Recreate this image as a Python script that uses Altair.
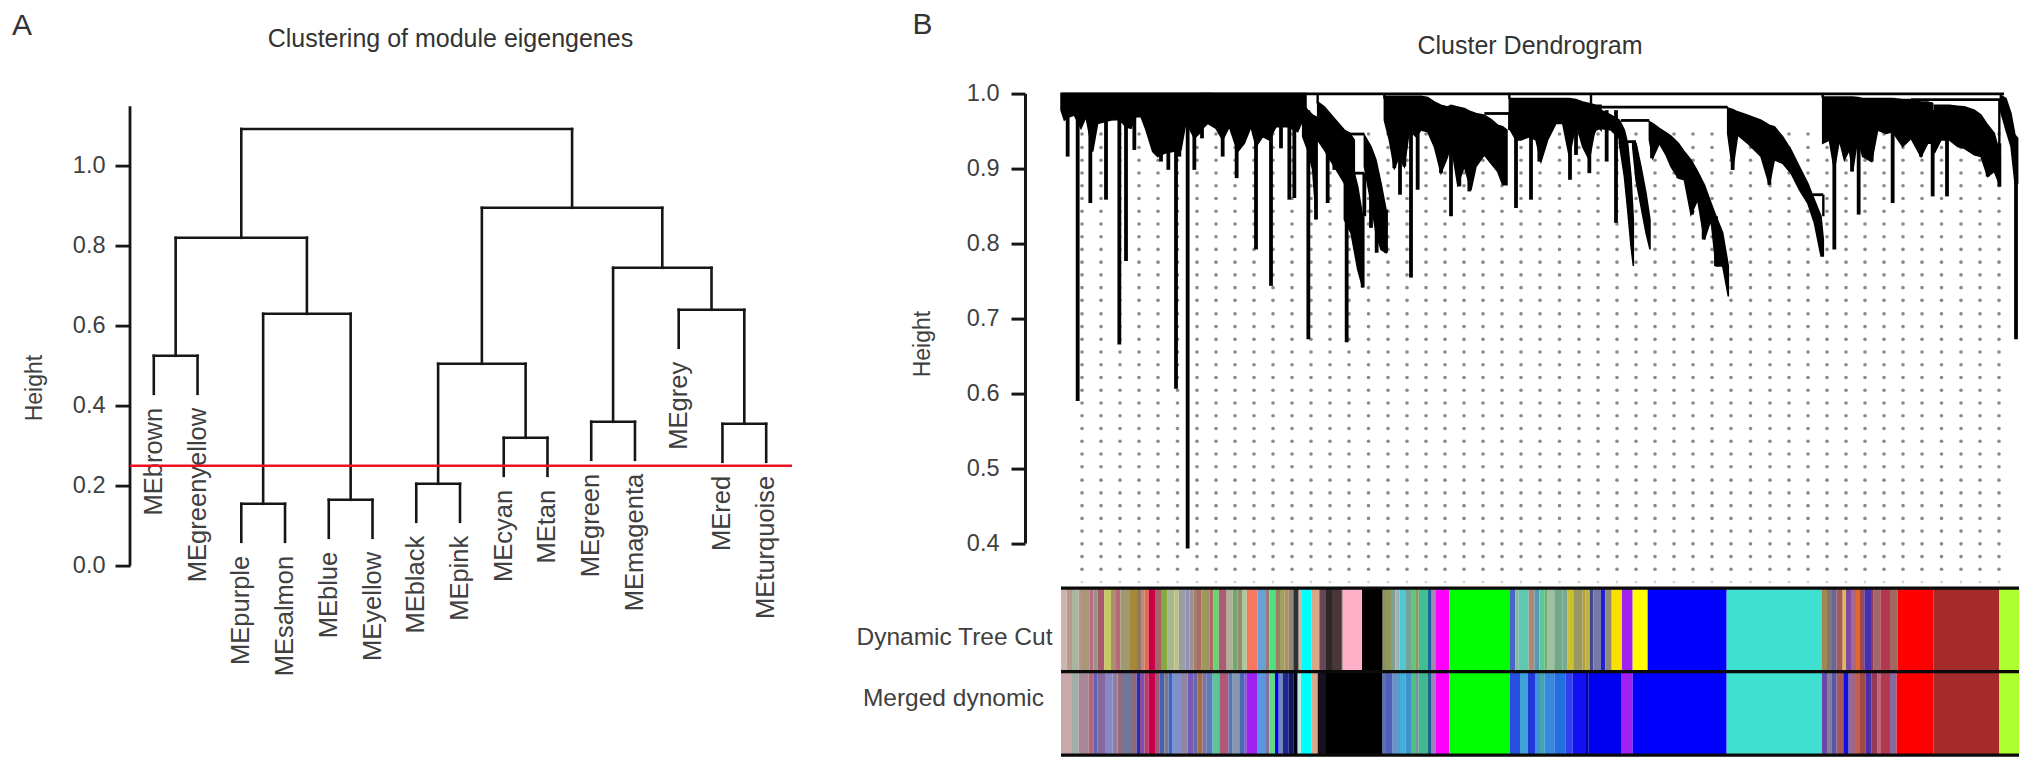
import altair as alt
import pandas as pd

FONT = "Liberation Sans"
TXT = "#404040"
INK = "#161616"

# ---------- Panel A ----------
LEAF_NAMES = ["MEbrown", "MEgreenyellow", "MEpurple", "MEsalmon", "MEblue", "MEyellow", "MEblack", "MEpink",
              "MEcyan", "MEtan", "MEgreen", "MEmagenta", "MEgrey", "MEred", "MEturquoise"]
LEAF_ENDS = [.43, .43, .06, .06, .07, .07, .11, .11, .225, .225, .265, .265, .545, .26, .26]
# left x, right x, merge height, left child height, right child height
MERGES = [
    (0, 1, .525, .43, .43), (2, 3, .155, .06, .06), (4, 5, .165, .07, .07), (2.5, 4.5, .63, .155, .165),
    (.5, 3.5, .82, .525, .63), (6, 7, .205, .11, .11), (8, 9, .32, .225, .225), (6.5, 8.5, .505, .205, .32),
    (10, 11, .36, .265, .265), (13, 14, .355, .26, .26), (12, 13.5, .64, .545, .355),
    (10.5, 12.75, .745, .36, .64), (7.5, 11.625, .895, .505, .745), (2, 9.5625, 1.092, .82, .895),
]
CUT_HEIGHT = .25
A_TICKS = [0, .2, .4, .6, .8, 1.0]
A_X = [-.544, 14.59]
A_W, A_H = 662, 472.2
AXIS_TOP = 1.149

segs = []
for xl, xr, h, hl, hr in MERGES:
    segs += [dict(x=xl, x2=xr, y=h, y2=h), dict(x=xl, x2=xl, y=hl, y2=h), dict(x=xr, x2=xr, y=hr, y2=h)]
segA = pd.DataFrame(segs)
ax = alt.X("x:Q", scale=alt.Scale(domain=A_X, nice=False, zero=False), axis=None)
ay = alt.Y("y:Q", scale=alt.Scale(domain=[0, 1.1805], nice=False, zero=False),
           axis=alt.Axis(values=A_TICKS, format=".1f", title="Height", grid=False, domain=False, tickColor=INK,
                         tickWidth=2.8, tickSize=15, labelFontSize=23.5, labelColor=TXT, labelFont=FONT,
                         labelPadding=10, titleFont=FONT, titleFontSize=23, titleColor=TXT, titleFontWeight="normal",
                         titleX=-96, titleY=294, titleBaseline="middle"))
axisLine = alt.Chart(pd.DataFrame(dict(x=[A_X[0]], y=[0], y2=[AXIS_TOP]))).mark_rule(color=INK, strokeWidth=2.8).encode(x=ax, y=ay, y2="y2:Q")
treeA = alt.Chart(segA).mark_rule(color=INK, strokeWidth=2.6, strokeCap="square").encode(x=ax, x2="x2:Q", y=ay, y2="y2:Q")
labelsA = alt.Chart(pd.DataFrame(dict(x=list(range(15)), n=LEAF_NAMES, y=[e - .035 for e in LEAF_ENDS]))).mark_text(
    angle=270, align="right", baseline="middle", font=FONT, fontSize=25.5, color=TXT).encode(x=ax, y=ay, text="n:N")
cutA = alt.Chart(pd.DataFrame(dict(x=[A_X[0]], x2=[A_X[1]], y=[CUT_HEIGHT]))).mark_rule(color="#ee1122", strokeWidth=2.6).encode(
    x=ax, x2="x2:Q", y=ay)
panelA = alt.layer(axisLine, treeA, labelsA, cutA).properties(width=A_W, height=A_H)

# ---------- Panel B dendrogram ----------
GUIDE_X = [21, 40, 59, 78, 97, 116.5, 136, 155, 174, 193, 212, 231, 250, 269, 288, 307.5, 327, 346, 365, 384, 403, 422,
           441, 460, 479, 498.5, 518, 537, 556, 575, 594, 613, 632, 651, 670, 689.5, 709, 728, 747, 766, 785, 804, 823,
           842, 861, 880.5, 900, 919, 938]
GUIDE_H = [.946, .928, .911, .894, .877, .860, .843, .826, .809, .792, .775, .758, .741, .724, .706, .689, .672, .655,
           .638, .621, .604, .587, .570, .553, .536, .519, .502, .484, .467, .450, .433, .416, .399, .382, .365]
GUIDE_LAST = .348

Z1, Z2, Z5 = -250, 140, 530
PIECES = [
    (Z1, [(750,100,150),(760,100,180),(775,100,170),(790,100,165),(810,100,205),(825,100,170),(845,100,275),(860,100,190),
          (880,100,185),(900,100,180),(925,100,178),(945,100,200),(960,100,205),(975,100,170),(990,100,170),(1005,100,210),
          (1025,100,275),(1040,100,290),(1060,100,280),(1085,100,275),(1110,100,270),(1125,100,185),(1150,100,235),
          (1170,100,215),(1185,100,180),(1200,100,190)]),
    (Z2, [(0,100,210),(20,100,190),(45,100,205),(65,100,240),(85,100,200),(110,100,275),(130,100,250),(150,100,200),
          (165,100,260),(185,100,230),(205,100,240),(225,100,200),(260,100,200),(290,100,215),(305,100,180),(315,100,160)]),
    (Z2, [(305,130,230),(320,150,270),(335,165,330),(345,170,470)]),
    (Z2, [(350,125,240),(370,140,270),(400,175,320),(430,210,370),(445,218,400),(460,240,440)]),
    (Z2, [(490,225,320),(510,260,430),(525,300,520),(540,370,570),(555,450,580)]),
    (Z2, [(430,260,480),(450,300,520),(470,380,630),(485,470,685)]),
    (Z2, [(550,108,180),(565,108,240),(580,108,325),(595,108,290),(610,108,320),(625,108,210),(645,108,230),(660,108,210),
          (680,112,215),(700,125,260),(720,135,340),(740,140,290),(750,135,250),(770,140,375),(790,145,320),(810,155,390),
          (825,160,320),(850,165,285),(870,178,310),(890,195,335),(905,200,375),(918,210,375)]),
    (Z2, [(925,115,205),(945,115,240),(960,115,240),(985,115,230),(1005,115,240),(1020,115,305),(1040,115,240),(1065,115,190),
          (1085,115,190),(1105,115,290),(1125,118,190),(1145,125,260),(1165,130,300),(1185,135,190),(1200,135,210)]),
    (Z5, [(0,140,240),(15,145,210),(30,150,205),(60,165,210),(85,180,235)]),
    (Z5, [(85,180,250),(100,210,350),(110,250,450),(120,350,560),(127,480,620)]),
    (Z5, [(125,245,260),(135,250,360),(150,320,440),(165,400,520),(177,480,570)]),
    (Z5, [(175,185,240),(185,190,295),(205,205,250),(225,218,285),(240,228,320),(262,250,355),(280,275,360),(300,300,465),
          (320,335,420),(340,375,540),(360,430,480),(375,470,620),(395,520,620),(412,620,712)]),
    (Z5, [(410,143,220),(425,148,330),(440,155,225),(470,165,250),(510,180,290),(535,195,375),(550,200,300),(575,230,310),
          (600,270,340),(625,320,390),(650,370,430),(670,420,490),(690,470,590),(697,540,590)]),
    (Z5, [(695,110,250),(715,110,240),(730,110,330),(745,110,240),(760,110,300),(775,110,270),(785,110,335),(800,112,235),
          (815,115,290),(842,115,305),(860,115,210),(885,115,220),(905,115,215),(935,118,260),(960,118,235),(990,125,290),
          (1010,125,250),(1025,130,250)]),
    (Z5, [(1030,135,280),(1050,135,240),(1075,135,240),(1100,138,260),(1120,140,265),(1150,150,285),(1170,165,290),
          (1190,195,350),(1210,220,335),(1228,290,380)]),
    (Z5, [(1228,105,150),(1245,115,210),(1260,160,260),(1272,225,370),(1280,235,370)]),
]
# (crop origin, x, top, bottom)
SPIKES = [
    (Z1,770,150,290),(Z1,800,150,1027),(Z1,838,150,430),(Z1,885,150,420),(Z1,925,150,857),(Z1,945,150,605),(Z1,970,150,270),
    (Z1,1050,150,305),(Z1,1072,150,330),(Z1,1095,150,990),(Z1,1105,150,290),(Z1,1130,150,1472),(Z1,1150,150,330),
    (Z2,3,150,235),(Z2,65,150,290),(Z2,107,150,355),(Z2,165,150,570),(Z2,210,150,680),(Z2,240,150,265),(Z2,265,150,420),
    (Z2,280,150,415),(Z2,322,150,841),(Z2,345,170,480),(Z2,380,200,430),(Z2,400,230,330),(Z2,437,300,850),(Z2,485,470,685),
    (Z2,490,340,470),(Z2,510,300,505),(Z2,527,400,580),(Z2,555,450,580),(Z2,580,150,325),(Z2,597,150,405),(Z2,610,150,320),
    (Z2,630,150,655),(Z2,650,150,390),(Z2,720,150,340),(Z2,750,150,470),(Z2,775,150,380),(Z2,805,170,395),(Z2,945,150,445),
    (Z2,990,150,420),(Z2,1015,150,305),(Z2,1107,150,360),(Z2,1125,150,285),(Z2,1165,150,340),
    (Z5,47,150,305),(Z5,75,150,490),(Z5,183,200,295),(Z5,262,260,355),(Z5,303,310,465),(Z5,338,380,540),(Z5,375,470,620),
    (Z5,425,150,330),(Z5,535,200,375),(Z5,730,150,570),(Z5,783,150,335),(Z5,803,150,465),(Z5,842,150,305),(Z5,905,150,430),
    (Z5,990,150,290),(Z5,1025,150,410),(Z5,1068,150,410),(Z5,1190,200,350),(Z5,1225,250,380),(Z5,1275,240,841),
]
# horizontal connectors (crop origin, x0, x1, level)
BARS = [
    (Z1,750,3579,101),(Z2,440,490,222),(Z2,460,490,340),(Z2,850,925,160),(Z5,30,410,141),(Z5,90,175,181),(Z5,110,135,245),
    (Z5,665,697,405),(Z5,960,1228,118),(Z5,965,1025,130),
]
# vertical connectors (crop origin, x, top, bottom)
POSTS = [(Z2,925,160,210),(Z5,697,405,470),(Z5,1225,118,290),(Z2,350,100,130),(Z2,550,100,115),(Z2,925,100,116),(Z5,695,100,112),(Z5,0,100,140)]

def off(origin, zx):
    return origin + zx / 3
def hgt(zy):
    return 1 - (zy - 100) / 2260

B_X = [-36, 960]
B_W, B_H = 996, 449.5
bx = alt.X("x:Q", scale=alt.Scale(domain=B_X, nice=False, zero=False), axis=None)
by = alt.Y("y:Q", scale=alt.Scale(domain=[.4, 1], nice=False, zero=False),
           axis=alt.Axis(values=[.4, .5, .6, .7, .8, .9, 1.0], format=".1f", title="Height", grid=False, domainColor=INK,
                         tickColor=INK, domainWidth=3, tickWidth=3, tickSize=14, labelFontSize=23.5, labelColor=TXT,
                         labelFont=FONT, labelPadding=12, titleFont=FONT, titleFontSize=23, titleColor=TXT,
                         titleFontWeight="normal", titleX=-102.5, titleY=250, titleBaseline="middle"))
dots = pd.DataFrame([dict(x=a, y=b) for a in GUIDE_X for b in GUIDE_H])
dotsLast = pd.DataFrame([dict(x=a, y=GUIDE_LAST) for a in GUIDE_X])
guide = alt.Chart(dots).mark_circle(size=13, color="#8a8a8a", opacity=1).encode(x=bx, y=by)
guide2 = alt.Chart(dotsLast).mark_circle(size=8, color="#d8d0d8", opacity=1).encode(x=bx, y=by)
areaRows = []
for i, (o, pts) in enumerate(PIECES):
    for zx, t, b in pts:
        areaRows.append(dict(p=i, x=off(o, zx), y=hgt(t), y2=hgt(b)))
mass = alt.Chart(pd.DataFrame(areaRows)).mark_area(color="black", stroke="black", strokeWidth=1.5).encode(
    x=bx, y=by, y2="y2:Q", detail="p:N")
spike = alt.Chart(pd.DataFrame([dict(x=off(o, z), y=hgt(t), y2=hgt(b)) for o, z, t, b in SPIKES])).mark_rule(
    color="black", strokeWidth=3.8).encode(x=bx, y=by, y2="y2:Q")
bars = alt.Chart(pd.DataFrame([dict(x=off(o, a), x2=off(o, b), y=hgt(l)) for o, a, b, l in BARS])).mark_rule(
    color="black", strokeWidth=2.8).encode(x=bx, x2="x2:Q", y=by)
posts = alt.Chart(pd.DataFrame([dict(x=off(o, z), y=hgt(t), y2=hgt(b)) for o, z, t, b in POSTS])).mark_rule(
    color="black", strokeWidth=2.4).encode(x=bx, y=by, y2="y2:Q")
panelB = alt.layer(guide, guide2, mass, spike, bars, posts).properties(width=B_W, height=B_H)

# ---------- colour strips: edges and colours read crop by crop ----------
DYN1 = [(15,32,"#cdb4b0"),(32,48,"#b89a90"),(48,68,"#a8b8a0"),(68,78,"#c09090"),(78,100,"#a89878"),(100,112,"#c06888"),(112,125,"#909880"),
        (125,145,"#a85870"),(145,165,"#c8c860"),(165,180,"#a89070"),(180,193,"#b86878"),(193,222,"#a09870"),(222,243,"#a88838"),(243,255,"#907868"),
        (255,266,"#c08878"),(266,278,"#e86848"),(278,297,"#c80048"),(297,315,"#a86068"),(315,335,"#88a840"),(335,355,"#a8b890"),(355,368,"#c0c080"),
        (368,388,"#98a0a0"),(388,400,"#9090c0"),(400,412,"#a09090"),(412,423,"#a08070"),(423,437,"#b06868"),(437,450,"#98a050"),(450,460,"#a09070"),
        (460,472,"#b06860"),(472,488,"#60d870"),(488,512,"#a86070"),(512,530,"#b0b098"),(530,545,"#70a870"),(545,558,"#a08870"),(558,572,"#a0d0a0"),
        (572,605,"#f87860"),(605,630,"#68a0d8"),(630,640,"#a07870"),(640,658,"#50e080"),(658,672,"#988060"),(672,685,"#a0a060"),(685,698,"#b09060"),
        (698,712,"#908870"),(712,728,"#303038"),(728,738,"#c0c0a0"),(738,766,"#00ffff"),(766,790,"#d8a888"),(790,810,"#684858"),(810,828,"#302828"),
        (828,855,"#483838"),(855,860,"#705050"),(860,918,"#ffb0c8"),(918,980,"#000000"),(980,990,"#909060")]
MRG1 = [(15,48,"#c8a8a8"),(48,68,"#a0b0a8"),(68,98,"#a88898"),(98,112,"#b06878"),(112,125,"#6060b8"),(125,147,"#886898"),(147,170,"#8888c8"),
        (170,185,"#9080a0"),(185,195,"#a06878"),(195,225,"#707898"),(225,242,"#906878"),(242,252,"#2828b0"),(252,265,"#8050a8"),(265,278,"#b04070"),
        (278,297,"#c80048"),(297,310,"#a05878"),(310,325,"#4860b0"),(325,338,"#787888"),(338,350,"#3868c8"),(350,375,"#8090c8"),(375,395,"#9088a0"),
        (395,412,"#7858b8"),(412,425,"#6868a8"),(425,440,"#a07048"),(440,452,"#8070b0"),(452,470,"#5880b8"),(470,490,"#58c898"),(490,518,"#b05878"),
        (518,530,"#5078c0"),(530,550,"#8898a8"),(550,565,"#4868c0"),(565,572,"#7858c8"),(572,605,"#a020f0"),(605,630,"#5898e0"),(630,640,"#8870a0"),
        (640,657,"#60d888"),(657,668,"#0000f0"),(668,680,"#7088c0"),(680,698,"#202890"),(698,712,"#101860"),(712,725,"#000010"),(725,735,"#c0e8e0"),
        (735,766,"#00ffff"),(766,785,"#d8a888"),(785,810,"#181020"),(810,978,"#000000"),(978,990,"#6070a8")]
DYN2 = [(0,15,"#909860"),(15,28,"#80a090"),(28,40,"#a0b0b8"),(40,60,"#50c8d0"),(60,75,"#78a098"),(75,90,"#60c878"),(90,98,"#a09060"),(98,125,"#40c090"),
        (125,137,"#2060a0"),(137,148,"#a08ab0"),(148,190,"#ff00ff"),(190,372,"#00ff00"),(372,388,"#4868c0"),(388,398,"#88b8a0"),(398,428,"#60c8b0"),
        (428,445,"#b08870"),(445,460,"#5898b0"),(460,475,"#58c8a0"),(475,485,"#70b070"),(485,505,"#a0c0a0"),(505,530,"#70a888"),(530,545,"#78a890"),
        (545,562,"#c8c030"),(562,590,"#989860"),(590,598,"#b0a040"),(598,612,"#c0b040"),(612,622,"#404890"),(622,645,"#7878a8"),(645,658,"#2020d0"),
        (658,677,"#908878"),(677,708,"#f8e000"),(708,740,"#a020f0"),(740,785,"#ffff00"),(785,960,"#0000ff")]
MRG2 = [(0,20,"#5060b8"),(20,42,"#6098c8"),(42,58,"#40b0d8"),(58,75,"#4090d0"),(75,90,"#50c080"),(90,98,"#8090a0"),(98,125,"#40b890"),(125,137,"#206090"),
        (137,148,"#a080c0"),(148,190,"#ff00ff"),(190,372,"#00ff00"),(372,402,"#2850e0"),(402,425,"#40a0d8"),(425,447,"#2038d8"),(447,462,"#4090e0"),
        (462,475,"#40a8a0"),(475,505,"#3888e0"),(505,538,"#2070e0"),(538,560,"#3040f0"),(560,600,"#1010f0"),(600,608,"#0000a8"),(608,705,"#0000f0"),
        (705,740,"#a020f0"),(740,960,"#0000ff")]
DYN3 = [(0,62,"#0000ff"),(62,348,"#40e0d0"),(348,363,"#a08850"),(363,378,"#807878"),(378,392,"#686898"),(392,410,"#a85858"),(410,420,"#d8c040"),
        (420,435,"#8048a8"),(435,450,"#a86888"),(450,462,"#e06830"),(462,475,"#a04848"),(475,495,"#4830b0"),(495,503,"#903858"),(503,523,"#a06868"),
        (523,552,"#b03850"),(552,575,"#a06860"),(575,682,"#ff0000"),(682,880,"#a52a2a"),(880,940,"#adff2f")]
MRG3 = [(0,62,"#0000ff"),(62,348,"#40e0d0"),(348,363,"#6848a8"),(363,378,"#888098"),(378,392,"#5858a8"),(392,412,"#a85858"),(412,428,"#1010e0"),
        (428,450,"#a06888"),(450,462,"#c06050"),(462,478,"#a04848"),(478,497,"#4830a8"),(497,515,"#983858"),(515,525,"#c06878"),(525,552,"#b03850"),
        (552,572,"#8868a0"),(572,682,"#ff0000"),(682,880,"#a52a2a"),(880,940,"#adff2f")]
ORIGINS = [-5, 325, 645]
STRIP_NAMES = ["Dynamic Tree Cut", "Merged dynomic"]
NAME_X = [-8.5, -17]

rows = []
for r, parts in enumerate([(DYN1, DYN2, DYN3), (MRG1, MRG2, MRG3)]):
    for o, part in zip(ORIGINS, parts):
        for a, b, c in part:
            rows.append(dict(x=o + a / 3, x2=o + b / 3, y=2 - r, y2=1 - r, c=c))
sx = alt.X("x:Q", scale=alt.Scale(domain=B_X, nice=False, zero=False), axis=None)
sy = alt.Y("y:Q", scale=alt.Scale(domain=[0, 2], nice=False, zero=False), axis=None)
stripes = alt.Chart(pd.DataFrame(rows)).mark_rect().encode(x=sx, x2="x2:Q", y=sy, y2="y2:Q", color=alt.Color("c:N", scale=None))
seps = alt.Chart(pd.DataFrame(dict(x=[0, 0, 0], x2=[958, 958, 958], y=[0, 1, 2]))).mark_rule(color="#0a0a0a", strokeWidth=3.2).encode(x=sx, x2="x2:Q", y=sy)
names = alt.Chart(pd.DataFrame(dict(x=NAME_X, y=[1.40, .67], n=STRIP_NAMES))).mark_text(
    align="right", baseline="middle", font=FONT, fontSize=24.5, color=TXT).encode(x=sx, y=sy, text="n:N")
panelS = alt.layer(stripes, seps, names).properties(width=B_W, height=167)

# ---------- headers ----------
def header(w, h, items):
    df = pd.DataFrame(items, columns=["t", "px", "py", "fs"])
    return alt.Chart(df).mark_text(font=FONT, align="center", baseline="middle", color="#333333").encode(
        x=alt.X("px:Q", scale=None, axis=None), y=alt.Y("py:Q", scale=None, axis=None),
        text="t:N", size=alt.Size("fs:Q", scale=None, legend=None)).properties(width=w, height=h)

headA = header(A_W, 63.9, [("A", -108, 18, 30), ("Clustering of module eigengenes", 320.4, 31, 25),
                           ("B", 792.5, 17, 30)])
headB = header(B_W, 63.9, [("Cluster Dendrogram", 505, 38, 25)])
blank = alt.Chart(pd.DataFrame(dict(x=[0], y=[0]))).mark_point(opacity=0).encode(
    x=alt.X("x:Q", axis=None), y=alt.Y("y:Q", axis=None)).properties(width=A_W, height=167)

chart = alt.concat(headA, headB, panelA, panelB, blank, panelS, columns=2,
                   spacing={"row": 21.6, "column": 233}, bounds="flush").properties(
    padding={"left": 3, "top": 0, "right": 0, "bottom": 0}
).configure_view(stroke=None).resolve_scale(color="independent")

chart.save("out.html", embed_options={"renderer": "svg", "actions": False})
